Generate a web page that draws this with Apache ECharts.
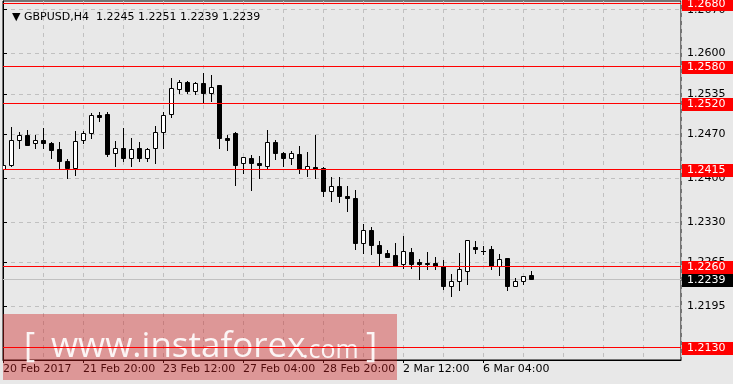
<!DOCTYPE html>
<html><head><meta charset="utf-8">
<script src="https://cdn.jsdelivr.net/npm/echarts@6/dist/echarts.min.js"></script>
<style>html,body{margin:0;padding:0;background:#e8e8e8;}#c{width:733px;height:384px;}</style>
</head><body><div id="c"></div>
<script>
const symbolName = 'GBPUSD,H4';
const opens  = [1.2415,1.2421,1.2461,1.2469,1.2457,1.2461,1.2457,1.2447,1.2427,1.2416,1.2461,1.2472,1.2501,1.2503,1.2440,1.2448,1.2433,1.2448,1.2433,1.2448,1.2474,1.2503,1.2543,1.2554,1.2540,1.2552,1.2536,1.2550,1.2465,1.2473,1.2424,1.2432,1.2424,1.2420,1.2458,1.2441,1.2432,1.2439,1.2415,1.2418,1.2417,1.2379,1.2387,1.2372,1.2369,1.2296,1.2317,1.2293,1.2280,1.2277,1.2262,1.2282,1.2266,1.2264,1.2264,1.2260,1.2228,1.2235,1.2252,1.2290,1.2284,1.2287,1.2260,1.2272,1.2227,1.2235,1.2245];
const highs  = [1.2421,1.2482,1.2474,1.2478,1.2469,1.2480,1.2458,1.2458,1.2431,1.2476,1.2476,1.2504,1.2506,1.2506,1.2460,1.2480,1.2464,1.2458,1.2449,1.2483,1.2506,1.2560,1.2558,1.2556,1.2555,1.2568,1.2566,1.2550,1.2470,1.2474,1.2434,1.2437,1.2436,1.2478,1.2461,1.2442,1.2443,1.2451,1.2442,1.2470,1.2418,1.2402,1.2402,1.2387,1.2381,1.2327,1.2322,1.2300,1.2285,1.2296,1.2308,1.2289,1.2271,1.2282,1.2274,1.2269,1.2247,1.2280,1.2301,1.2299,1.2291,1.2292,1.2278,1.2272,1.2240,1.2243,1.2251];
const lows   = [1.2409,1.2419,1.2449,1.2454,1.2448,1.2449,1.2433,1.2416,1.2400,1.2406,1.2456,1.2465,1.2492,1.2436,1.2420,1.2428,1.2419,1.2427,1.2428,1.2425,1.2449,1.2499,1.2537,1.2537,1.2535,1.2521,1.2524,1.2448,1.2445,1.2390,1.2409,1.2381,1.2401,1.2415,1.2431,1.2420,1.2423,1.2409,1.2404,1.2401,1.2372,1.2363,1.2362,1.2348,1.2287,1.2280,1.2278,1.2260,1.2274,1.2260,1.2256,1.2257,1.2239,1.2255,1.2254,1.2223,1.2212,1.2221,1.2231,1.2281,1.2278,1.2255,1.2245,1.2221,1.2227,1.2230,1.2239];
const closes = [1.2421,1.2461,1.2469,1.2454,1.2461,1.2456,1.2445,1.2428,1.2416,1.2459,1.2472,1.2501,1.2499,1.2439,1.2448,1.2433,1.2447,1.2432,1.2447,1.2474,1.2501,1.2544,1.2554,1.2540,1.2552,1.2536,1.2547,1.2464,1.2461,1.2422,1.2434,1.2425,1.2422,1.2458,1.2440,1.2432,1.2441,1.2415,1.2420,1.2415,1.2379,1.2387,1.2371,1.2369,1.2297,1.2317,1.2293,1.2281,1.2274,1.2260,1.2283,1.2263,1.2263,1.2263,1.2260,1.2227,1.2235,1.2254,1.2301,1.2286,1.2283,1.2260,1.2270,1.2228,1.2235,1.2243,1.2239];
const xTickIndex  = [0,10,20,30,40,50,60];
const xTickLabels = ['20 Feb 2017','21 Feb 20:00','23 Feb 12:00','27 Feb 04:00','28 Feb 20:00','2 Mar 12:00','6 Mar 04:00'];
const yTickValues = [1.2670,1.2600,1.2535,1.2470,1.2400,1.2330,1.2265,1.2195,1.2130];
const levels = [1.2680,1.2580,1.2520,1.2415,1.2260,1.2130];

const FONT = 'DejaVu Sans';
const n = closes.length;
const bid = closes[n-1];
const candles = opens.map((o,i)=>[i,o,highs[i],lows[i],closes[i]]);

function renderCandle(params, api){
  const i = api.value(0), o = api.value(1), h = api.value(2), l = api.value(3), c = api.value(4);
  const cx = Math.floor(api.coord([i,o])[0]);
  const yO = Math.round(api.coord([i,o])[1]);
  const yC = Math.round(api.coord([i,c])[1]);
  const yH = Math.round(api.coord([i,h])[1]);
  const yL = Math.round(api.coord([i,l])[1]);
  const top = Math.min(yO,yC), bot = Math.max(yO,yC);
  const kids = [{type:'line', shape:{x1:cx+0.5,y1:yH,x2:cx+0.5,y2:yL+1}, style:{stroke:'#000',lineWidth:1}}];
  if (bot - top < 1) {
    kids.push({type:'line', shape:{x1:cx-2,y1:top+0.5,x2:cx+3,y2:top+0.5}, style:{stroke:'#000',lineWidth:1}});
  } else {
    kids.push({type:'rect', shape:{x:cx-1.5,y:top+0.5,width:4,height:bot-top}, style:{fill:c>o?'#fff':'#000',stroke:'#000',lineWidth:1}});
  }
  return {type:'group', children:kids};
}

function makeLevelRenderer(lineColor, boxColor){
  return function(params, api){
    const v = api.value(1), cs = params.coordSys;
    const row = Math.round(api.coord([0, v])[1]);
    const right = cs.x + cs.width;
    return {type:'group', children:[
      {type:'line', shape:{x1:cs.x, y1:row+0.5, x2:right, y2:row+0.5}, style:{stroke:lineColor, lineWidth:1}},
      {type:'rect', shape:{x:right+1, y:row-5, width:api.getWidth()-right-1, height:13}, style:{fill:boxColor}},
      {type:'text', x:right+6, y:row+1, style:{text:v.toFixed(4), fill:'#fff', font:'11px "DejaVu Sans"', verticalAlign:'middle', align:'left'}}
    ]};
  };
}

const chart = echarts.init(document.getElementById('c'), null, {renderer:'canvas'});
chart.setOption({
  animation:false,
  backgroundColor:'#e8e8e8',
  title:{text:'\u25BC ' + symbolName + '  ' + [opens[n-1],highs[n-1],lows[n-1],closes[n-1]].map(v=>v.toFixed(4)).join(' '),
    left:7, top:7, textStyle:{fontSize:11, fontWeight:'normal', color:'#000', fontFamily:FONT}},
  grid:{left:3, right:52, top:1, bottom:24, show:true, borderColor:'#000', borderWidth:1, backgroundColor:'transparent'},
  xAxis:[
    {type:'value', min:0, max:84.75, interval:5, position:'bottom',
     axisLine:{show:true, lineStyle:{color:'#000'}}, axisTick:{show:false}, axisLabel:{show:false},
     splitLine:{show:true, lineStyle:{color:'#c0c0c0', type:[4,4], width:1}}},
    {type:'value', min:0, max:84.75, position:'bottom',
     axisLine:{show:false}, splitLine:{show:false},
     axisTick:{show:true, customValues:xTickIndex, length:3, lineStyle:{color:'#000'}},
     axisLabel:{show:true, customValues:xTickIndex, align:'left', margin:4, color:'#000', fontSize:11, fontFamily:FONT,
       formatter:v=>{const k=xTickIndex.indexOf(v); return k>=0?xTickLabels[k]:'';}}}
  ],
  yAxis:{type:'value', position:'right', min:1.2109, max:1.2684,
    axisLine:{show:true, lineStyle:{color:'#000'}},
    axisTick:{show:true, customValues:yTickValues, length:4, lineStyle:{color:'#000'}},
    axisLabel:{show:true, customValues:yTickValues, margin:6, color:'#000', fontSize:11, fontFamily:FONT, formatter:v=>v.toFixed(4)},
    splitLine:{show:true, lineStyle:{color:'#c0c0c0', type:[4,4], width:1}}},
  graphic:[
    {type:'rect', z:1, shape:{x:3, y:314, width:394, height:66}, style:{fill:'rgba(205,30,30,0.4)'}, silent:true},
    {type:'text', z:1, x:24, y:347, silent:true, style:{text:'[', font:'34px "Open Sans"', fill:'rgba(255,255,255,0.9)', verticalAlign:'middle'}},
    {type:'text', z:1, x:51, y:347, silent:true, style:{text:'www.instaforex', font:'35px "Open Sans"', fill:'rgba(255,255,255,0.9)', verticalAlign:'middle'}},
    {type:'text', z:1, x:302, y:351, silent:true, style:{text:'.com', font:'25px "Open Sans"', fill:'rgba(255,255,255,0.9)', verticalAlign:'middle'}},
    {type:'text', z:1, x:366, y:347, silent:true, style:{text:']', font:'34px "Open Sans"', fill:'rgba(255,255,255,0.9)', verticalAlign:'middle'}}
  ],
  series:[
    {type:'custom', name:'bid', xAxisIndex:0, yAxisIndex:0, renderItem:makeLevelRenderer('#c0c0c0','#000'),
     data:[[0,bid]], encode:{x:0,y:1}, clip:false, z:2, silent:true},
    {type:'custom', name:'candles', xAxisIndex:0, yAxisIndex:0, renderItem:renderCandle, data:candles,
     encode:{x:0, y:[1,2,3,4]}, clip:true, z:3, silent:true},
    {type:'custom', name:'levels', xAxisIndex:0, yAxisIndex:0, renderItem:makeLevelRenderer('#ff0000','#ff0000'),
     data:levels.map(v=>[0,v]), encode:{x:0,y:1}, clip:false, z:4, silent:true}
  ]
});
</script></body></html>
